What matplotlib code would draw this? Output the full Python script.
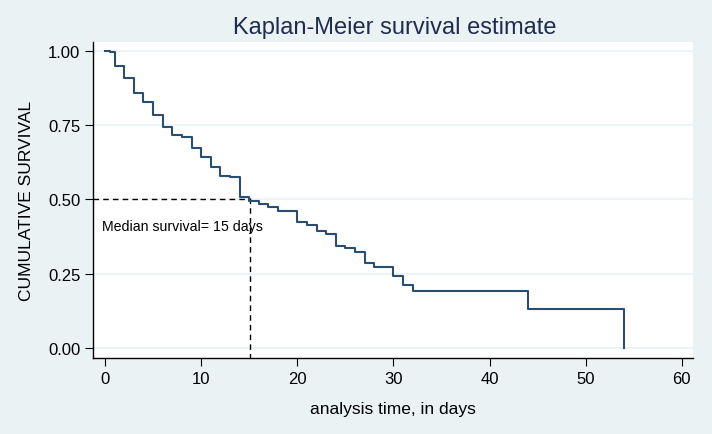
import matplotlib.pyplot as plt

# Kaplan-Meier step data (time in days, survival after the step)
times = [0, 0.5, 1, 2, 3, 4, 5, 6, 7, 8, 9, 10, 11, 12, 13, 14, 15, 16, 17, 18,
         20, 21, 22, 23, 24, 25, 26, 27, 28, 30, 31, 32, 44, 54]
surv = [1.00, 0.995, 0.95, 0.91, 0.858, 0.828, 0.785, 0.744, 0.717, 0.71, 0.673,
        0.643, 0.61, 0.58, 0.575, 0.508, 0.495, 0.485, 0.475, 0.46,
        0.423, 0.413, 0.395, 0.385, 0.345, 0.335, 0.323, 0.285, 0.272, 0.242,
        0.212, 0.193, 0.13, 0.0]

median_time = 15.1
median_surv = 0.5

xticks = [0, 10, 20, 30, 40, 50, 60]
yticks = [0.00, 0.25, 0.50, 0.75, 1.00]

bg = '#eaf2f3'
plt.rcParams['font.family'] = ['Liberation Sans', 'DejaVu Sans']

fig = plt.figure(figsize=(7.12, 4.35), dpi=100, facecolor=bg)
ax = fig.add_axes([0.1306, 0.1747, 0.8424, 0.7263])
ax.set_facecolor('white')

ax.step(times, surv, where='post', color='#2a4d72', linewidth=1.5, zorder=3)

# median lines
ax.plot([-1.25, median_time], [median_surv, median_surv], color='black',
        linestyle=(0, (4, 3)), linewidth=1)
ax.plot([median_time, median_time], [median_surv + 0.005, -0.04], color='black',
        linestyle=(0, (4, 3)), linewidth=1)
ax.text(-0.3, 0.41, 'Median survival= 15 days', fontsize=10.2, va='center', ha='left')

ax.set_xlim(-1.25, 61.14)
ax.set_ylim(-0.0337, 1.030)
ax.set_xticks(xticks)
ax.set_yticks(yticks)
ax.set_yticklabels(['%.2f' % v for v in yticks])
ax.tick_params(axis='both', labelsize=12, length=6, direction='out', color='black', pad=3)
ax.grid(axis='y', color=bg, linewidth=1.2)
ax.set_axisbelow(True)

for s in ['top', 'right']:
    ax.spines[s].set_visible(False)
for s in ['left', 'bottom']:
    ax.spines[s].set_color('black')
    ax.spines[s].set_linewidth(1)

ax.set_xlabel('analysis time, in days', fontsize=12.5, labelpad=11)
ax.set_ylabel('CUMULATIVE SURVIVAL', fontsize=12.5, labelpad=10)
fig.text(0.555, 0.936, 'Kaplan-Meier survival estimate', fontsize=17,
         color='#1e2d4f', ha='center', va='center')

fig.savefig('out.png', dpi=100, facecolor=bg)
